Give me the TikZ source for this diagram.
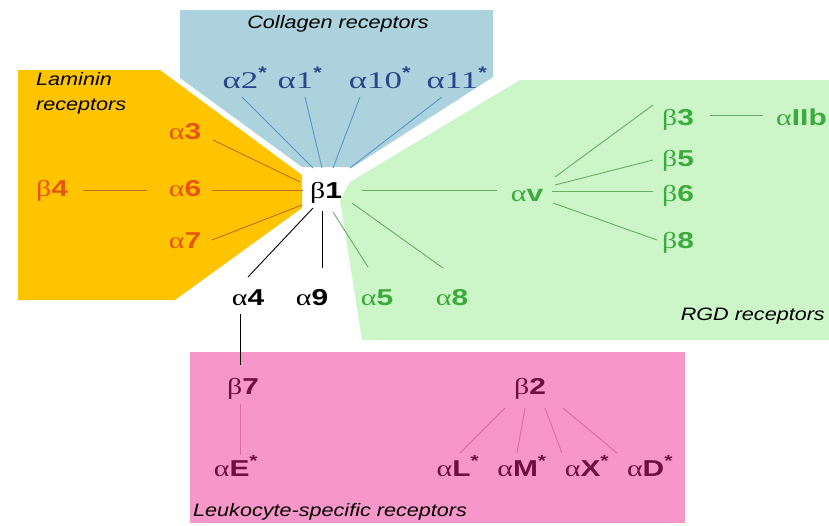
\documentclass[tikz,border=0pt]{standalone}
\usepackage{fontspec}
\setmainfont{Liberation Sans}
\newfontfamily\labsans[FakeStretch=1.3]{Liberation Sans}
\newfontfamily\labgrk[FakeStretch=1.3]{Liberation Serif}
\newfontfamily\colfont[FakeStretch=1.45]{Liberation Serif}
\newfontfamily\colast[FakeStretch=1.3]{Liberation Sans}
\newfontfamily\descfont[FakeStretch=1.2]{Liberation Sans}
\newcommand\glab[2]{{\labgrk #1}{\labsans\bfseries #2}}
\newcommand\gast{\textsuperscript{\labsans\bfseries *}}
\newcommand\clab[1]{{\colfont α#1}\textsuperscript{\colast\bfseries *}}
\definecolor{blueBg}{RGB}{172,210,222}
\definecolor{orangeBg}{RGB}{255,196,0}
\definecolor{greenBg}{RGB}{204,245,200}
\definecolor{pinkBg}{RGB}{247,150,200}
\definecolor{colText}{RGB}{40,70,140}
\definecolor{colLine}{RGB}{90,150,200}
\definecolor{orText}{RGB}{230,85,20}
\definecolor{orLine}{RGB}{190,110,30}
\definecolor{grText}{RGB}{60,170,60}
\definecolor{grLine}{RGB}{100,175,100}
\definecolor{pkText}{RGB}{110,15,65}
\definecolor{pkLine}{RGB}{215,110,165}
\begin{document}
\begin{tikzpicture}[x=1pt,y=-1pt,
  lab/.style={inner sep=0pt,anchor=base,font=\fontsize{23}{26}\selectfont},
  clabel/.style={inner sep=0pt,anchor=base,text=colText,font=\fontsize{24}{26}\selectfont},
  desc/.style={inner sep=0pt,font=\descfont\itshape\fontsize{18}{25}\selectfont},
  conn/.style={line width=0.9pt}]
\useasboundingbox (0,0) rectangle (829,525);
% background regions
\fill[blueBg] (180,10) -- (493,10) -- (493,77) -- (353,167) -- (302,167) -- (180,78) -- cycle;
\fill[orangeBg] (18,70) -- (160,70) -- (302,175) -- (302,208) -- (175,300) -- (18,300) -- cycle;
\fill[greenBg] (520,80) -- (829,80) -- (829,340) -- (362,340) -- (340,200) -- (350,182) -- cycle;
\fill[pinkBg] (190,352) rectangle (685,523);
% descriptions
\node[desc,anchor=base] (tcol) at (338,28) {Collagen receptors};
\node[desc,anchor=north west,align=left] (tlam) at (36,72) {Laminin\\receptors};
\node[desc,anchor=base east] (trgd) at (825,320) {RGD receptors};
\node[desc,anchor=base west] (tleu) at (193,516) {Leukocyte-specific receptors};
% central
\node[lab] (b1) at (326,198) {\glab{β}{1}};
% collagen
\node[clabel] (a2) at (245,88) {\clab{2}};
\node[clabel] (a1) at (300,88) {\clab{1}};
\node[clabel] (a10) at (380,88) {\clab{10}};
\node[clabel] (a11) at (457,88) {\clab{11}};
% laminin
\node[lab,text=orText] (a3) at (185,139) {\glab{α}{3}};
\node[lab,text=orText] (a6) at (185,196) {\glab{α}{6}};
\node[lab,text=orText] (a7) at (185,248) {\glab{α}{7}};
\node[lab,text=orText] (b4) at (52,196) {\glab{β}{4}};
% bottom row
\node[lab] (a4) at (248,305) {\glab{α}{4}};
\node[lab] (a9) at (312,305) {\glab{α}{9}};
\node[lab,text=grText] (a5) at (377,305) {\glab{α}{5}};
\node[lab,text=grText] (a8) at (452,305) {\glab{α}{8}};
% RGD
\node[lab,text=grText] (av) at (527,201) {\glab{α}{v}};
\node[lab,text=grText] (b3) at (678,125) {\glab{β}{3}};
\node[lab,text=grText] (b5) at (678,166) {\glab{β}{5}};
\node[lab,text=grText] (b6) at (678,201) {\glab{β}{6}};
\node[lab,text=grText] (b8) at (678,248) {\glab{β}{8}};
\node[lab,text=grText,anchor=base west] (aIIb) at (776,125) {\glab{α}{IIb}};
% leukocyte
\node[lab,text=pkText] (b7) at (243,394) {\glab{β}{7}};
\node[lab,text=pkText] (aE) at (236,476) {\glab{α}{E}\gast};
\node[lab,text=pkText] (b2) at (530,394) {\glab{β}{2}};
\node[lab,text=pkText] (aL) at (458,476) {\glab{α}{L}\gast};
\node[lab,text=pkText] (aM) at (522,476) {\glab{α}{M}\gast};
\node[lab,text=pkText] (aX) at (587,476) {\glab{α}{X}\gast};
\node[lab,text=pkText] (aD) at (650,476) {\glab{α}{D}\gast};
% collagen connectors
\draw[conn,colLine] ([shift={(-3,9)}]a2.base) -- ([shift={(-13,-30)}]b1.base);
\draw[conn,colLine] ([shift={(5,9)}]a1.base) -- ([shift={(-4,-30)}]b1.base);
\draw[conn,colLine] ([shift={(-20,9)}]a10.base) -- ([shift={(7,-30)}]b1.base);
\draw[conn,colLine] ([shift={(-15,9)}]a11.base) -- ([shift={(24,-30)}]b1.base);
% laminin connectors
\draw[conn,orLine] ([shift={(28,1)}]a3.base) -- ([shift={(-26,-16)}]b1.base);
\draw[conn,orLine] ([shift={(27,-6)}]a6.base) -- ([shift={(-23,-8)}]b1.base);
\draw[conn,orLine] ([shift={(31,-6)}]b4.base) -- ([shift={(-38,-6)}]a6.base);
\draw[conn,orLine] ([shift={(27,-8)}]a7.base) -- ([shift={(-24,7)}]b1.base);
% black connectors
\draw[conn,black] ([shift={(-13,10)}]b1.base) -- ([shift={(0,-28)}]a4.base);
\draw[conn,black] ([shift={(-4,13)}]b1.base) -- ([shift={(10,-37)}]a9.base);
\draw[conn,black] ([shift={(-8,9)}]a4.base) -- ([shift={(-3,-29)}]b7.base);
% green connectors
\draw[conn,grLine] ([shift={(7,14)}]b1.base) -- ([shift={(-9,-38)}]a5.base);
\draw[conn,grLine] ([shift={(26,5)}]b1.base) -- ([shift={(-9,-37)}]a8.base);
\draw[conn,grLine] ([shift={(36,-8)}]b1.base) -- ([shift={(-30,-11)}]av.base);
\draw[conn,grLine] ([shift={(28,-24)}]av.base) -- ([shift={(-25,-20)}]b3.base);
\draw[conn,grLine] ([shift={(28,-16)}]av.base) -- ([shift={(-25,-6)}]b5.base);
\draw[conn,grLine] ([shift={(25,-10)}]av.base) -- ([shift={(-25,-10)}]b6.base);
\draw[conn,grLine] ([shift={(26,2)}]av.base) -- ([shift={(-21,-8)}]b8.base);
\draw[conn,grLine] ([shift={(32,-10)}]b3.base) -- ([shift={(-13,-10)}]aIIb.base west);
% leukocyte connectors
\draw[conn,pkLine] ([shift={(-3,10)}]b7.base) -- ([shift={(4,-21)}]aE.base);
\draw[conn,pkLine] ([shift={(-25,14)}]b2.base) -- ([shift={(2,-23)}]aL.base);
\draw[conn,pkLine] ([shift={(-5,14)}]b2.base) -- ([shift={(-5,-23)}]aM.base);
\draw[conn,pkLine] ([shift={(15,14)}]b2.base) -- ([shift={(-25,-23)}]aX.base);
\draw[conn,pkLine] ([shift={(33,14)}]b2.base) -- ([shift={(-33,-23)}]aD.base);
\end{tikzpicture}
\end{document}
